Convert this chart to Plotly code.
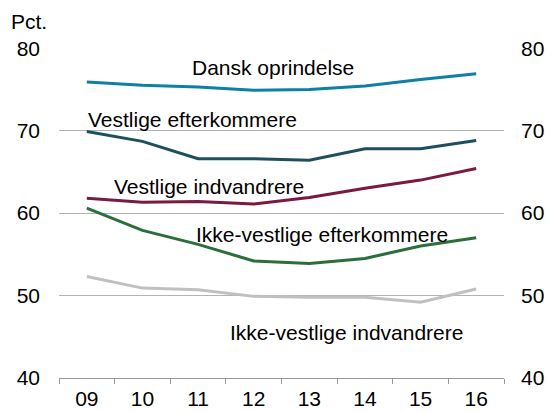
import plotly.graph_objects as go

years = ["09", "10", "11", "12", "13", "14", "15", "16"]
dansk = [75.9, 75.5, 75.3, 74.9, 75.0, 75.4, 76.2, 76.9]
vest_efter = [69.9, 68.7, 66.6, 66.6, 66.4, 67.8, 67.8, 68.8]
vest_indv = [61.8, 61.3, 61.4, 61.1, 61.9, 63.0, 64.0, 65.4]
ikke_efter = [60.6, 57.9, 56.2, 54.2, 53.9, 54.5, 56.0, 57.0]
ikke_indv = [52.3, 50.9, 50.7, 49.9, 49.8, 49.8, 49.2, 50.8]
y_ticks = [40, 50, 60, 70, 80]

series = [
    ("Dansk oprindelse", dansk, "#0e7fa6", 1.86, 77.6),
    ("Vestlige efterkommere", vest_efter, "#1d4f5c", -0.01, 71.35),
    ("Vestlige indvandrere", vest_indv, "#7a1a42", 0.46, 63.2),
    ("Ikke-vestlige efterkommere", ikke_efter, "#2a6e3b", 1.93, 57.45),
    ("Ikke-vestlige indvandrere", ikke_indv, "#c0c0c0", 2.54, 45.5),
]

font = dict(family="Liberation Sans, Arial, sans-serif", size=21, color="#000000")

fig = go.Figure()
for name, vals, color, lx, ly in series:
    fig.add_trace(go.Scatter(x=years, y=vals, mode="lines", name=name,
                             line=dict(color=color, width=3), showlegend=False))
    fig.add_annotation(x=lx, y=ly, xref="x", yref="y", text=name, showarrow=False,
                       xanchor="left", yanchor="middle", font=font)

# invisible trace for right axis
fig.add_trace(go.Scatter(x=years, y=dansk, yaxis="y2", mode="lines",
                         line=dict(width=0), hoverinfo="skip", showlegend=False, opacity=0))

fig.add_annotation(x=-0.112, y=1.08, xref="paper", yref="paper", text="Pct.", showarrow=False,
                   font=font, xanchor="left", yanchor="middle")

fig.update_layout(
    width=550, height=412,
    margin=dict(l=59, r=46, t=48, b=34),
    paper_bgcolor="white", plot_bgcolor="white",
    font=font,
    xaxis=dict(type="category", tickson="boundaries", ticks="outside", ticklen=5,
               tickcolor="#999999", showline=True, linecolor="#999999", linewidth=1,
               showgrid=False, tickfont=font, ticklabelstandoff=2, range=[-0.5, 7.5],
               automargin=False),
    yaxis=dict(range=[40, 80.02], tickvals=y_ticks, showgrid=True, gridcolor="#b3b3b3",
               gridwidth=1, zeroline=False, showline=False, ticks="", tickfont=font,
               ticklabelstandoff=18, automargin=False),
    yaxis2=dict(range=[40, 80.02], tickvals=y_ticks, overlaying="y", side="right",
                showgrid=False, zeroline=False, showline=False, ticks="", tickfont=font,
                ticklabelstandoff=16, automargin=False),
)

fig.write_html("out.html", config={"displayModeBar": False},
               post_script="document.body.style.margin='0px';document.body.style.overflow='hidden';")
